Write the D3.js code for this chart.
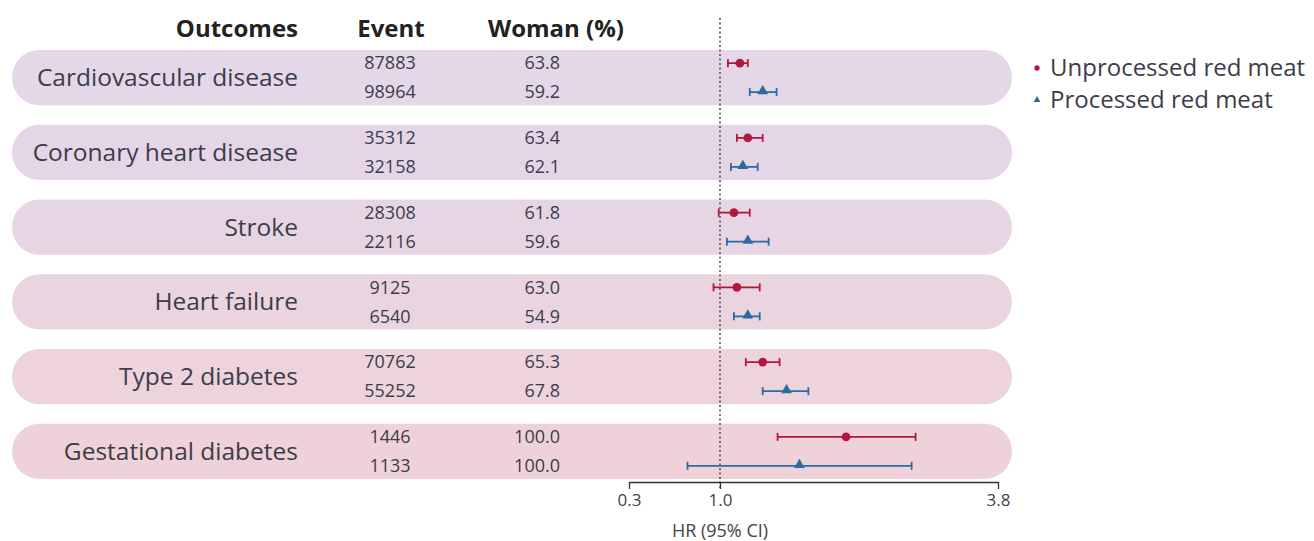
<!DOCTYPE html>
<html>
<head>
<meta charset="utf-8">
<script src="https://cdn.jsdelivr.net/npm/d3@7/dist/d3.min.js"></script>
<style>
  body { margin: 0; background: #fff; }
  svg { font-family: "Open Sans", Lato, sans-serif; }
</style>
</head>
<body>
<svg id="chart" width="1314" height="541"></svg>
<script>
// data
const outcomes = ['Cardiovascular disease', 'Coronary heart disease', 'Stroke',
                  'Heart failure', 'Type 2 diabetes', 'Gestational diabetes'];
const series = ['Unprocessed red meat', 'Processed red meat'];

const eventsUnproc = [87883, 35312, 28308, 9125, 70762, 1446];
const eventsProc   = [98964, 32158, 22116, 6540, 55252, 1133];
const womenUnproc  = [63.8, 63.4, 61.8, 63.0, 65.3, 100.0];
const womenProc    = [59.2, 62.1, 59.6, 54.9, 67.8, 100.0];

const hrUnproc  = [1.20, 1.28, 1.14, 1.17, 1.43, 2.27];
const lowUnproc = [1.08, 1.17, 0.99, 0.95, 1.26, 1.58];
const upUnproc  = [1.28, 1.43, 1.30, 1.40, 1.60, 2.97];

const hrProc  = [1.43, 1.23, 1.28, 1.28, 1.67, 1.80];
const lowProc = [1.30, 1.11, 1.07, 1.14, 1.43, 0.75];
const upProc  = [1.57, 1.38, 1.49, 1.40, 1.89, 2.93];

const tickValues = [0.3, 1.0, 3.8];

// styles
const bandColors = ['#e3d7e8', '#e4d6e6', '#e6d5e3', '#e9d4df', '#ecd3dc', '#efd2d9'];
const red = '#b3173c', blue = '#2c6b9f', ink = '#3d3c4a';

const svg = d3.select('#chart');

// x scale: the published axis is neither linear nor log, so keep it piecewise
const x = d3.scaleLinear().domain(tickValues).range([629, 720, 998]);

// row layout
const y = d3.scaleBand().domain(d3.range(outcomes.length)).range([41, 488]).paddingInner(0.26).paddingOuter(0.12);
const sub = 14.5;

const rows = outcomes.map((name, i) => ({
  name, i,
  items: [
    { s: 0, ev: eventsUnproc[i], w: womenUnproc[i], hr: hrUnproc[i], lo: lowUnproc[i], up: upUnproc[i] },
    { s: 1, ev: eventsProc[i],   w: womenProc[i],   hr: hrProc[i],   lo: lowProc[i],   up: upProc[i] }
  ]
}));

// background pills
svg.append('g').selectAll('rect')
  .data(rows)
  .join('rect')
    .attr('x', 12)
    .attr('y', d => y(d.i))
    .attr('width', 1000)
    .attr('height', y.bandwidth())
    .attr('rx', y.bandwidth() / 2)
    .attr('fill', d => bandColors[d.i]);

// headers
const head = svg.append('g').attr('font-weight', 700).attr('font-size', 24).attr('fill', '#222');
head.append('text').attr('x', 298).attr('y', 37).attr('text-anchor', 'end').text('Outcomes');
head.append('text').attr('x', 391).attr('y', 37).attr('text-anchor', 'middle').text('Event');
head.append('text').attr('x', 556).attr('y', 37).attr('text-anchor', 'middle').text('Woman (%)');

const center = d => y(d.i) + y.bandwidth() / 2;

// outcome labels
svg.append('g').selectAll('text')
  .data(rows)
  .join('text')
    .attr('x', 298)
    .attr('y', d => center(d))
    .attr('dy', '0.35em')
    .attr('text-anchor', 'end')
    .attr('font-size', 24.5)
    .attr('fill', ink)
    .text(d => d.name);

// table columns
const cells = svg.append('g').selectAll('g')
  .data(rows)
  .join('g')
    .attr('transform', d => `translate(0,${center(d)})`);

cells.selectAll('text.ev')
  .data(d => d.items)
  .join('text')
    .attr('class', 'ev')
    .attr('x', 390)
    .attr('y', d => d.s === 0 ? -sub : sub)
    .attr('dy', '0.35em')
    .attr('text-anchor', 'middle')
    .attr('font-size', 18)
    .attr('fill', ink)
    .text(d => d.ev);

cells.selectAll('text.w')
  .data(d => d.items)
  .join('text')
    .attr('class', 'w')
    .attr('x', 560)
    .attr('y', d => d.s === 0 ? -sub : sub)
    .attr('dy', '0.35em')
    .attr('text-anchor', 'end')
    .attr('font-size', 18)
    .attr('fill', ink)
    .text(d => d3.format('.1f')(d.w));

// reference line at HR = 1
svg.append('line')
  .attr('x1', x(1)).attr('x2', x(1))
  .attr('y1', 18).attr('y2', 488)
  .attr('stroke', '#555')
  .attr('stroke-width', 1.6)
  .attr('stroke-dasharray', '2,2.5');

// axis
const axisG = svg.append('g')
  .attr('transform', 'translate(0,482)')
  .call(d3.axisBottom(x).tickValues(tickValues).tickFormat(d3.format('.1f')).tickSize(7).tickSizeOuter(0));
axisG.select('.domain').attr('stroke', '#333').attr('stroke-width', 1.3);
axisG.selectAll('.tick line').attr('stroke', '#333').attr('stroke-width', 1.3);
axisG.selectAll('.tick text').attr('font-size', 17).attr('fill', '#444')
  .attr('font-family', '"Open Sans", sans-serif').attr('dy', '0.8em');

svg.append('text')
  .attr('x', x(1)).attr('y', 537)
  .attr('text-anchor', 'middle')
  .attr('font-size', 18)
  .attr('fill', '#444')
  .text('HR (95% CI)');

// error bars and markers
const marks = cells.selectAll('g.mk')
  .data(d => d.items)
  .join('g')
    .attr('class', 'mk')
    .attr('transform', d => `translate(0,${d.s === 0 ? -sub : sub})`)
    .attr('stroke', d => d.s === 0 ? red : blue)
    .attr('fill', d => d.s === 0 ? red : blue);

marks.append('line')
  .attr('x1', d => x(d.lo)).attr('x2', d => x(d.up))
  .attr('stroke-width', 1.8);
marks.append('line')
  .attr('x1', d => x(d.lo)).attr('x2', d => x(d.lo))
  .attr('y1', -4).attr('y2', 4).attr('stroke-width', 1.8);
marks.append('line')
  .attr('x1', d => x(d.up)).attr('x2', d => x(d.up))
  .attr('y1', -4).attr('y2', 4).attr('stroke-width', 1.8);
marks.append('path')
  .attr('transform', d => `translate(${x(d.hr)},${d.s === 0 ? 0 : -1})`)
  .attr('stroke', 'none')
  .attr('d', d => d3.symbol(d.s === 0 ? d3.symbolCircle : d3.symbolTriangle, d.s === 0 ? 60 : 50)());

// legend
const legend = svg.append('g').selectAll('g')
  .data(series)
  .join('g')
    .attr('transform', (d, i) => `translate(1037,${68 + i * 32})`);
legend.append('path')
  .attr('d', (d, i) => d3.symbol(i === 0 ? d3.symbolCircle : d3.symbolTriangle, i === 0 ? 22 : 20)())
  .attr('fill', (d, i) => i === 0 ? red : blue);
legend.append('text')
  .attr('x', 13)
  .attr('dy', '0.35em')
  .attr('font-size', 24)
  .attr('fill', ink)
  .text(d => d);
</script>
</body>
</html>
